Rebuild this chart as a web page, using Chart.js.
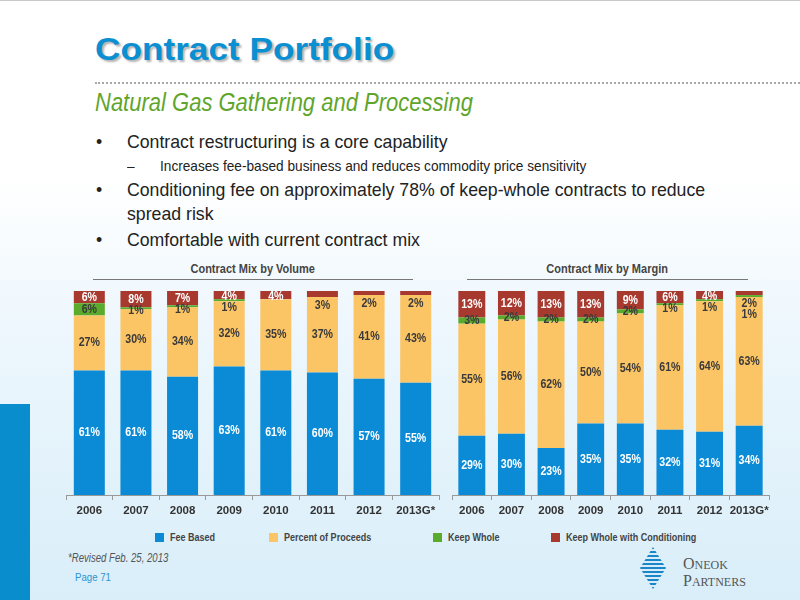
<!DOCTYPE html>
<html lang="en">
<head>
  <meta charset="UTF-8">
  <title>Contract Portfolio</title>
  <script src="https://cdn.jsdelivr.net/npm/chart.js"></script>
  <style>
    body {
      margin: 0;
      width: 800px;
      height: 600px;
      position: relative;
      overflow: hidden;
      font-family: "Liberation Sans", Arial, sans-serif;
      background: linear-gradient(to bottom, #ffffff 0px, #ffffff 180px, #eef7fd 320px, #d9eef9 600px);
      border-top: 1px solid #c8c8c8;
      box-sizing: border-box;
    }
    .abs { position: absolute; white-space: nowrap; transform-origin: 0 50%; }
    #title {
      left: 95px; top: 30px;
      font-size: 32px; font-weight: bold; color: #0a8fd2;
      text-shadow: 2px 2px 2px rgba(0,0,0,0.3);
      transform: scaleX(1.1);
    }
    #rule {
      left: 95px; top: 81px; width: 705px;
      border-top: 2px dotted #a8a8a8;
    }
    #subtitle {
      left: 95px; top: 87px;
      font-size: 25px; font-style: italic; color: #5fa52b;
      transform: scaleX(0.88);
    }
    .bullet { font-size: 17.7px; color: #222; }
    .sub { font-size: 15px; color: #222; transform: scaleX(0.91); }
    .ctitle {
      font-size: 12.5px; font-weight: bold; color: #444; text-align: center;
      border-bottom: 1.5px solid #777; padding-bottom: 3px;
    }
    .ctitle span { display: inline-block; transform: scaleX(0.88); }
    canvas { position: absolute; }
    #leftbar { left: 0; top: 403px; width: 30px; height: 197px; background: #0a8dcc; }
    .leg { position: absolute; top: 530px; white-space: nowrap; font-size: 11px; font-weight: bold; color: #444; }
    .leg span.sw { position: absolute; left: 0; top: 2px; width: 9px; height: 9px; }
    .leg span.tx { position: absolute; left: 15px; top: 0; display: inline-block; transform: scaleX(0.82); transform-origin: 0 50%; }
  </style>
</head>
<body>
  <div id="leftbar" class="abs"></div>
  <div id="title" class="abs">Contract Portfolio</div>
  <div id="rule" class="abs"></div>
  <div id="subtitle" class="abs">Natural Gas Gathering and Processing</div>

  <div class="abs bullet" style="left:96px; top:131px;">•</div>
  <div class="abs bullet" style="left:127px; top:131px;">Contract restructuring is a core capability</div>
  <div class="abs sub" style="left:127px; top:156px;">–</div>
  <div class="abs sub" style="left:160px; top:156px;">Increases fee-based business and reduces commodity price sensitivity</div>
  <div class="abs bullet" style="left:96px; top:179px;">•</div>
  <div class="abs bullet" style="left:127px; top:179px;">Conditioning fee on approximately 78% of keep-whole contracts to reduce</div>
  <div class="abs bullet" style="left:127px; top:203px;">spread risk</div>
  <div class="abs bullet" style="left:96px; top:229px;">•</div>
  <div class="abs bullet" style="left:127px; top:229px;">Comfortable with current contract mix</div>

  <div class="abs ctitle" style="left:93px; top:261px; width:320px;"><span>Contract Mix by Volume</span></div>
  <div class="abs ctitle" style="left:467px; top:261px; width:281px;"><span>Contract Mix by Margin</span></div>

  <canvas id="volChart" width="385" height="240" style="left:60px; top:282px; width:385px; height:240px;"></canvas>
  <canvas id="marChart" width="335" height="240" style="left:445px; top:282px; width:335px; height:240px;"></canvas>

  <div id="legend"></div>

  <div class="abs" style="left:68px; top:550px; font-size:12px; font-style:italic; color:#555; transform:scaleX(0.8);">*Revised Feb. 25, 2013</div>
  <div class="abs" style="left:75px; top:570px; font-size:11.5px; color:#2a94d4; transform:scaleX(0.84);">Page 71</div>

  <div class="abs" style="left:640px; top:546px; width:26px; height:42px;
       clip-path: polygon(50% 0, 100% 50%, 50% 100%, 0 50%);
       background: repeating-linear-gradient(to bottom, #1b86c8 0px, #1b86c8 2px, #d6ecf8 2px, #d6ecf8 4px);"></div>
  <div class="abs" style="left:683px; top:555px; font-family:'Liberation Serif', serif; color:#555; font-size:16px; line-height:16px;">
    O<span style="font-size:12px;">NEOK</span><br>P<span style="font-size:12px;">ARTNERS</span>
  </div>

  <script>
    // Chart data
    const years = ['2006', '2007', '2008', '2009', '2010', '2011', '2012', '2013G*'];
    const seriesNames = ['Fee Based', 'Percent of Proceeds', 'Keep Whole', 'Keep Whole with Conditioning'];
    const seriesColors = ['#0b8ad6', '#fbc465', '#5aab2c', '#a8392f'];
    const labelColors = ['#ffffff', '#3a3a3a', '#3a3a3a', '#ffffff'];

    const volFee = [61, 61, 58, 63, 61, 60, 57, 55];
    const volPop = [27, 30, 34, 32, 35, 37, 41, 43];
    const volKw = [6, 1, 1, 1, 0, 0, 0, 0];
    const volKwc = [6, 8, 7, 4, 4, 3, 2, 2];

    const marFee = [29, 30, 23, 35, 35, 32, 31, 34];
    const marPop = [55, 56, 62, 50, 54, 61, 64, 63];
    const marKw = [3, 2, 2, 2, 2, 1, 1, 1];
    const marKwc = [13, 12, 13, 13, 9, 6, 4, 2];

    const labelFont = 'bold 12.5px "Liberation Sans", Arial, sans-serif';

    // Draws the percent labels in each stacked segment, top down,
    // pushing labels of thin segments below so they don't collide
    const segLabels = {
      id: 'segLabels',
      afterDatasetsDraw(chart) {
        const ctx = chart.ctx;
        const sets = chart.data.datasets;
        ctx.save();
        ctx.font = labelFont;
        ctx.textAlign = 'center';
        ctx.textBaseline = 'middle';
        chart.data.labels.forEach((lab, i) => {
          let prevY = -Infinity;
          let first = true;
          for (let d = sets.length - 1; d >= 0; d--) {
            const v = sets[d].data[i];
            if (!v) continue;
            const bar = chart.getDatasetMeta(d).data[i];
            const top = Math.min(bar.y, bar.base);
            const bottom = Math.max(bar.y, bar.base);
            const h = bottom - top;
            let y = (top + bottom) / 2;
            let color = labelColors[d];
            if (first && h < 7) y = bottom + 8;
            y = Math.max(y, prevY + 11, chart.chartArea.top + 6);
            if (h < 7 || y > bottom + 2) color = '#3a3a3a';
            ctx.fillStyle = color;
            ctx.save();
            ctx.translate(bar.x, y);
            ctx.scale(0.85, 1);
            ctx.fillText(v + '%', 0, 0);
            ctx.restore();
            prevY = y;
            first = false;
          }
        });
        ctx.restore();
      }
    };

    function makeChart(id, series, pad, barPct) {
      const ctx = document.getElementById(id).getContext('2d');
      return new Chart(ctx, {
        type: 'bar',
        data: {
          labels: years,
          datasets: series.map((data, k) => ({
            label: seriesNames[k],
            data: data,
            backgroundColor: seriesColors[k],
            borderWidth: 0,
            barPercentage: barPct,
            categoryPercentage: 1
          }))
        },
        options: {
          responsive: false,
          animation: false,
          layout: { padding: pad },
          plugins: {
            legend: { display: false },
            tooltip: { enabled: false }
          },
          scales: {
            x: {
              stacked: true,
              grid: { display: true, offset: true, drawOnChartArea: false, drawTicks: true, tickLength: 5, color: '#999' },
              border: { display: true, color: '#999' },
              ticks: {
                padding: 4,
                color: '#333',
                maxRotation: 0,
                minRotation: 0,
                autoSkip: false,
                font: { family: '"Liberation Sans", Arial', size: 11.5, weight: 'bold' }
              },
              afterFit: (s) => { s.height = 28; }
            },
            y: { stacked: true, display: false, min: 0, max: 100 }
          }
        },
        plugins: [segLabels]
      });
    }

    makeChart('volChart', [volFee, volPop, volKw, volKwc], { left: 6, right: 6, top: 8, bottom: 0 }, 0.665);
    makeChart('marChart', [marFee, marPop, marKw, marKwc], { left: 7, right: 11, top: 8, bottom: 0 }, 0.68);

    // HTML legend shared by both charts
    const legend = document.getElementById('legend');
    const legendX = [155, 269, 433, 551];
    seriesNames.forEach((name, k) => {
      const item = document.createElement('div');
      item.className = 'leg';
      item.style.left = legendX[k] + 'px';
      item.innerHTML = `<span class="sw" style="background:${seriesColors[k]}"></span><span class="tx">${name}</span>`;
      legend.appendChild(item);
    });
  </script>
</body>
</html>
